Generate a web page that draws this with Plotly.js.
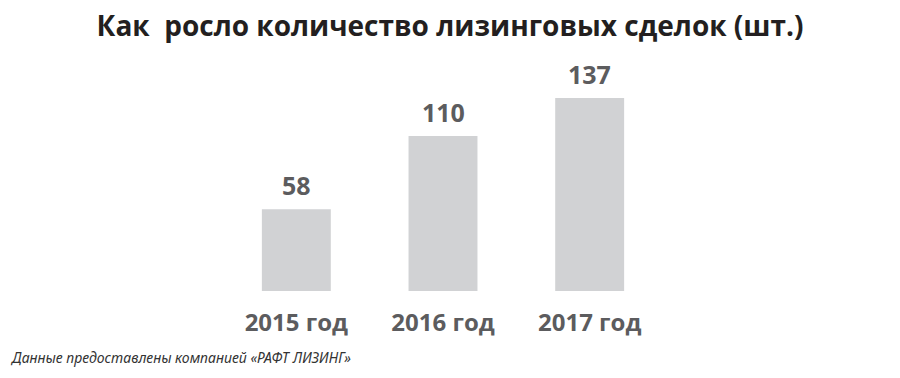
<!DOCTYPE html>
<html><head><meta charset="utf-8">
<script src="https://cdn.plot.ly/plotly-3.0.1.min.js"></script>
<style>html,body{margin:0;padding:0;background:#fff}#c{width:900px;height:378px}</style>
</head><body><div id="c"></div>
<script>
const categories = ["2015 год", "2016 год", "2017 год"];
const deals = [58, 110, 137];
const valueLabels = ["58", "110", "137"];

const trace = {
  type: "bar",
  x: categories,
  y: deals,
  marker: {color: "#d1d2d4"},
  hoverinfo: "none"
};

const annotations = categories.map((c, i) => ({
  x: c, y: deals[i], xref: "x", yref: "y",
  text: "<b>" + valueLabels[i] + "</b>", showarrow: false,
  yanchor: "bottom", yshift: 5,
  font: {family: "Open Sans", size: 25, color: "#5c5c5e"}
}));
annotations.push({
  xref: "paper", yref: "paper", x: -0.489, y: -0.29, xanchor: "left", yanchor: "middle",
  text: "<i>Данные предоставлены компанией «РАФТ ЛИЗИНГ»</i>", showarrow: false,
  font: {family: "Noto Sans", size: 14, color: "#333333"}
});

const layout = {
  width: 900, height: 378,
  margin: {l: 223, r: 237, t: 60, b: 87},
  paper_bgcolor: "#ffffff", plot_bgcolor: "#ffffff",
  bargap: 0.53,
  showlegend: false,
  title: {
    text: "<b>Как\u00a0 росло количество лизинговых сделок (шт.)</b>",
    x: 0.5, xanchor: "center", y: 0.932, yanchor: "middle",
    font: {family: "Open Sans", size: 28, color: "#231f20"}
  },
  xaxis: {
    type: "category", showgrid: false, zeroline: false, showline: false, ticks: "",
    tickfont: {family: "Open Sans", size: 24, color: "#5c5c5e", weight: "bold"},
    ticklabelstandoff: 15
  },
  yaxis: {range: [0, 164], visible: false, showgrid: false, zeroline: false},
  annotations: annotations
};

Plotly.newPlot("c", [trace], layout, {staticPlot: true, displayModeBar: false});
</script></body></html>
